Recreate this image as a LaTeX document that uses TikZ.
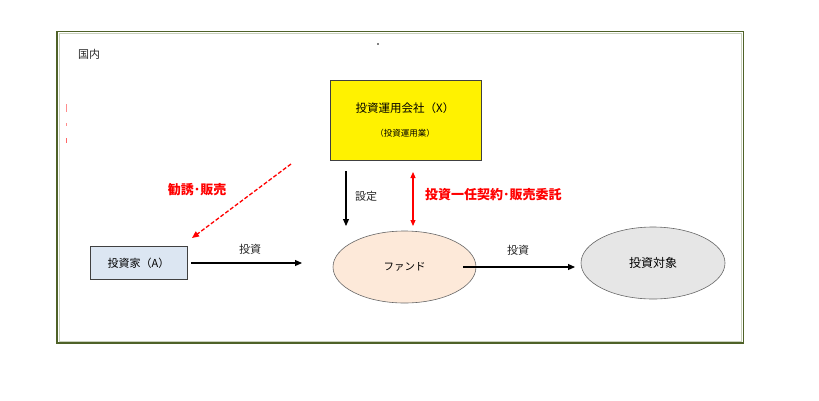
\documentclass[tikz,border=0pt]{standalone}
\usepackage{fontspec}
\setmainfont{Noto Sans CJK JP}
\usetikzlibrary{arrows.meta,shapes.geometric}
\definecolor{framegreen}{HTML}{4F6228}
\definecolor{frameinner}{HTML}{C9D1BC}
\definecolor{investorblue}{HTML}{DCE6F2}
\definecolor{fundpeach}{HTML}{FDE9D9}
\definecolor{targetgray}{HTML}{E6E6E6}
\definecolor{textgray}{HTML}{262626}

\begin{document}
\begin{tikzpicture}[x=1pt,y=-1pt,
    flow/.style={-{Triangle[length=7pt,width=6pt]},line width=1.1pt,black},
    redflow/.style={{Triangle[length=6pt,width=5pt]}-{Triangle[length=6pt,width=5pt]},line width=1.1pt,red},
    blacklabel/.style={font=\fontsize{11}{13}\selectfont,text=textgray},
    redlabel/.style={font=\bfseries\fontsize{13}{15}\selectfont,text=red}]
                \useasboundingbox (0,0) rectangle (819,400);

                % the frame round the picture
                \draw[frameinner,line width=0.9pt] (59,33.5) rectangle (741.5,341);
                \draw[framegreen,line width=1.3pt] (57,31.5) rectangle (743.5,343);
                \node[blacklabel,anchor=west,inner sep=0pt] (domestic) at (78,54) {国内};
                \fill (378,44) circle (0.8pt);

                % small red marks at the left
                \draw[red!45,line width=0.9pt] (66,104) -- (66,112);
                \draw[red!45,line width=0.9pt] (66,123) -- (66,126);
                \draw[red!60,line width=0.9pt] (66,138) -- (66,143);

                % boxes and ellipses
                \draw[fill=yellow,draw=black!75,line width=0.8pt] (330,80) rectangle (481,160);
                \node (company) at (405,108) {\fontsize{11.5}{13}\selectfont 投資運用会社（X）};
                \node (business) at (405,133) {\fontsize{8.5}{10}\selectfont （投資運用業）};

                \node[draw=black!75,fill=investorblue,line width=0.8pt,minimum width=97pt,minimum height=33pt,
                      font=\fontsize{11}{13}\selectfont] (investor) at (138.5,263) {投資家（A）};

                \node[draw=black!60,fill=fundpeach,line width=0.6pt,ellipse,minimum width=143pt,minimum height=72pt,
                      font=\fontsize{10.5}{12}\selectfont,inner sep=0pt] (fund) at (404.5,267) {ファンド};
                \node[draw=black!60,fill=targetgray,line width=0.6pt,ellipse,minimum width=144pt,minimum height=72pt,
                      font=\fontsize{12}{14}\selectfont,inner sep=0pt] (target) at (653,263) {投資対象};

                % connectors
                \coordinate (setstart) at (346,171);
                \coordinate (setend) at (346,226);
                \draw[flow] (setstart) -- (setend);
                \node[blacklabel] (setlabel) at (366,196) {設定};

                \coordinate (contracttop) at (413,172);
                \coordinate (contractbottom) at (413,226);
                \draw[redflow] (contracttop) -- (contractbottom);
                \node[redlabel,anchor=west,inner sep=0pt] (contractlabel) at (425,195) {投資一任契約･販売委託};

                \coordinate (investend) at (302,263);
                \draw[flow] ([xshift=4pt]investor.east) -- (investend);
                \node[blacklabel] (investlabel) at (250,249) {投資};

                \coordinate (fundout) at (463,267);
                \coordinate (targetin) at (575,267);
                \draw[flow] (fundout) -- (targetin);
                \node[blacklabel] (fundinvestlabel) at (518,250) {投資};

                \coordinate (salestart) at (291,164);
                \coordinate (saleend) at (192,238);
                \draw[red,line width=1.3pt,dash pattern=on 4pt off 2pt,-{Triangle[length=7pt,width=6pt]}] (salestart) -- (saleend);
                \node[redlabel] (salelabel) at (197,190) {勧誘･販売};
            \end{tikzpicture}
\end{document}
